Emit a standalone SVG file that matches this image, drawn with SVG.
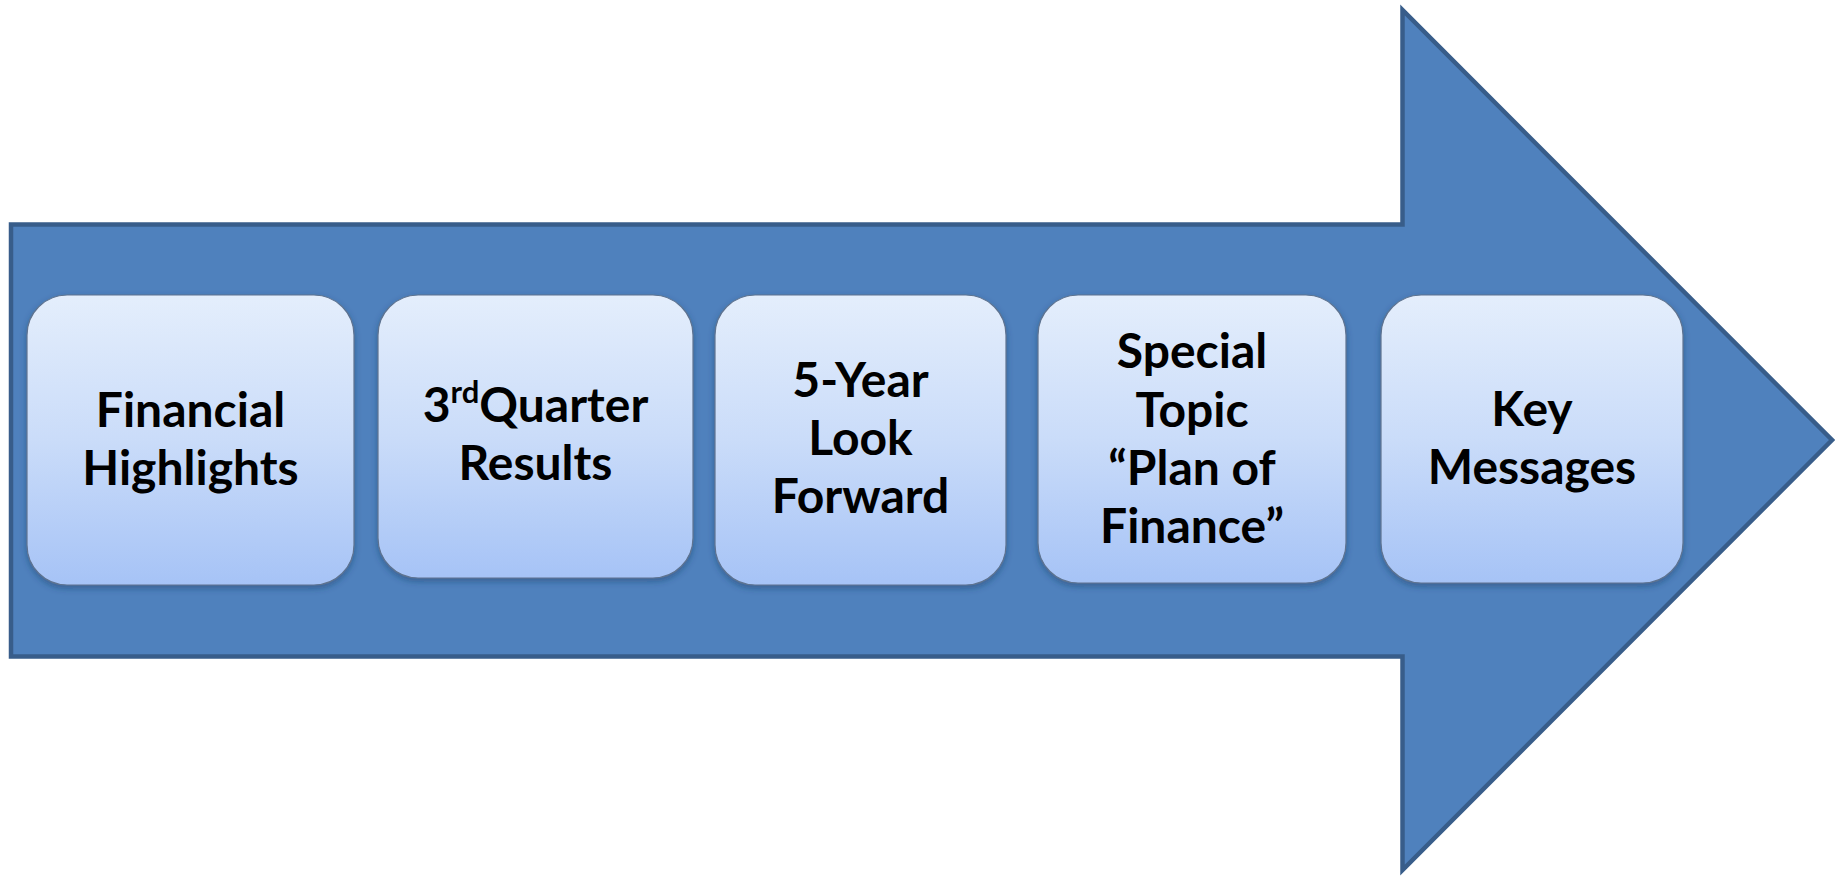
<svg xmlns="http://www.w3.org/2000/svg" width="1835" height="879" viewBox="0 0 1835 879">
  <style>
    .box { fill: url(#boxFill); stroke: #5E7390; stroke-width: 1.2; filter: url(#shadow); }
    .label { font-family: Lato, "Open Sans", "Liberation Sans", sans-serif; font-weight: bold; font-size: 48px; fill: #000; text-anchor: middle; }
    .sup { font-size: 31px; }
  </style>
  <defs>
    <linearGradient id="boxFill" x1="0" y1="0" x2="0" y2="1">
      <stop offset="0" stop-color="#E4EEFC"/>
      <stop offset="0.5" stop-color="#CADCF9"/>
      <stop offset="1" stop-color="#A6C3F6"/>
    </linearGradient>
    <filter id="shadow" x="-10%" y="-10%" width="120%" height="125%">
      <feDropShadow dx="0" dy="3" stdDeviation="3" flood-color="#1E3A60" flood-opacity="0.45"/>
    </filter>
  </defs>

  <!-- big process arrow -->
  <g id="arrow">
    <polygon points="11,224.5 1402.5,224.5 1402.5,10 1832,440 1402.5,870 1402.5,656.5 11,656.5"
             fill="#4F81BD" stroke="#385D8A" stroke-width="4.5" stroke-linejoin="miter" stroke-miterlimit="10"/>
  </g>

  <g id="connectors"></g>

  <g id="financial-highlights">
    <rect class="box" x="27" y="295" width="327" height="290" rx="40"/>
    <text class="label"><tspan x="190.5" y="427">Financial</tspan><tspan x="190.5" y="485">Highlights</tspan></text>
  </g>

  <g id="quarter-results">
    <rect class="box" x="378" y="295" width="315" height="283" rx="40"/>
    <text class="label"><tspan x="535.5" y="422">3<tspan class="sup" dy="-19">rd</tspan><tspan dy="19">Quarter</tspan></tspan><tspan x="535.5" y="480">Results</tspan></text>
  </g>

  <g id="five-year-look">
    <rect class="box" x="715" y="295" width="291" height="290" rx="40"/>
    <text class="label"><tspan x="860.5" y="397">5-Year</tspan><tspan x="860.5" y="455">Look</tspan><tspan x="860.5" y="513">Forward</tspan></text>
  </g>

  <g id="special-topic">
    <rect class="box" x="1038" y="295" width="308" height="288" rx="40"/>
    <text class="label"><tspan x="1192" y="368">Special</tspan><tspan x="1192" y="427">Topic</tspan><tspan x="1192" y="485">“Plan of</tspan><tspan x="1192" y="543">Finance”</tspan></text>
  </g>

  <g id="key-messages">
    <rect class="box" x="1381" y="295" width="302" height="288" rx="40"/>
    <text class="label"><tspan x="1532" y="426">Key</tspan><tspan x="1532" y="484">Messages</tspan></text>
  </g>
</svg>
